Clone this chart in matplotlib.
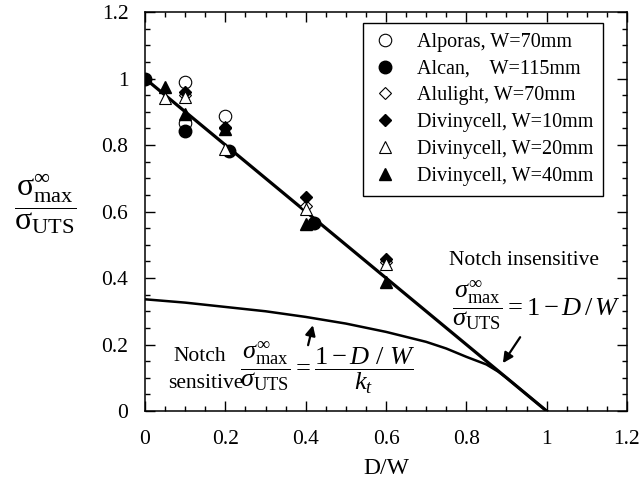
import numpy as np
import matplotlib
matplotlib.use('Agg')
import matplotlib.pyplot as plt
from matplotlib.ticker import MultipleLocator

plt.rcParams['font.family'] = ['Liberation Serif', 'DejaVu Serif']
plt.rcParams['mathtext.fontset'] = 'custom'
plt.rcParams['mathtext.rm'] = 'Liberation Serif'
plt.rcParams['mathtext.it'] = 'Liberation Serif:italic'
plt.rcParams['mathtext.bf'] = 'Liberation Serif:bold'
plt.rcParams['mathtext.fallback'] = 'stix'

# measured points (D/W, normalised strength)
alporas_x = [0.1, 0.1, 0.2]
alporas_y = [0.99, 0.865, 0.888]
alcan_x = [0.0, 0.1, 0.21, 0.42]
alcan_y = [1.0, 0.843, 0.782, 0.564]
alulight_x = [0.1, 0.2, 0.4, 0.6]
alulight_y = [0.95, 0.855, 0.618, 0.448]
div10_x = [0.1, 0.2, 0.4, 0.6]
div10_y = [0.958, 0.85, 0.645, 0.458]
div20_x = [0.05, 0.1, 0.2, 0.4, 0.6]
div20_y = [0.94, 0.945, 0.789, 0.608, 0.442]
div40_x = [0.05, 0.1, 0.2, 0.4, 0.6]
div40_y = [0.975, 0.893, 0.847, 0.563, 0.388]

# notch insensitive line and notch sensitive curve
insens_x = [0.0, 1.0]
insens_y = [1.0, 0.0]
sens_x = [0.0, 0.1, 0.2, 0.3, 0.4, 0.5, 0.6, 0.7, 0.75, 0.8, 0.85, 0.88, 0.9, 0.95, 1.0]
sens_y = [0.336, 0.326, 0.313, 0.300, 0.283, 0.263, 0.238, 0.208, 0.188,
          0.163, 0.14, 0.118, 0.1, 0.05, 0.0]

tick_vals = [0, 0.2, 0.4, 0.6, 0.8, 1.0, 1.2]
tick_labels = ['0', '0.2', '0.4', '0.6', '0.8', '1', '1.2']

fig = plt.figure(figsize=(6.42, 4.92), dpi=100)
ax = fig.add_axes([0.2259, 0.1646, 0.7507, 0.811])

ax.plot(insens_x, insens_y, color='black', lw=2.3, zorder=2)
ax.plot(sens_x, sens_y, color='black', lw=1.8, zorder=2)

ms = 9
ax.plot(alporas_x, alporas_y, 'o', ms=ms, mfc='white', mec='black', mew=0.8,
        label='Alporas, W=70mm', zorder=3)
ax.plot(alcan_x, alcan_y, 'o', ms=ms, mfc='black', mec='black',
        label='Alcan,    W=115mm', zorder=3)
ax.plot(alulight_x, alulight_y, 'D', ms=ms - 2.5, mfc='white', mec='black', mew=0.8,
        label='Alulight, W=70mm', zorder=3)
ax.plot(div10_x, div10_y, 'D', ms=ms - 2.5, mfc='black', mec='black',
        label='Divinycell, W=10mm', zorder=3)
ax.plot(div20_x, div20_y, '^', ms=ms, mfc='white', mec='black', mew=0.8,
        label='Divinycell, W=20mm', zorder=3)
ax.plot(div40_x, div40_y, '^', ms=ms, mfc='black', mec='black',
        label='Divinycell, W=40mm', zorder=3)

ax.set_xlim(0, 1.2)
ax.set_ylim(0, 1.2)
ax.set_xticks(tick_vals)
ax.set_xticklabels(tick_labels)
ax.set_yticks(tick_vals)
ax.set_yticklabels(tick_labels)
ax.xaxis.set_minor_locator(MultipleLocator(0.05))
ax.yaxis.set_minor_locator(MultipleLocator(0.05))
ax.tick_params(which='both', direction='in', top=True, right=True, width=1.0)
ax.tick_params(which='major', length=7)
ax.tick_params(which='minor', length=3.5)
ax.tick_params(axis='x', which='major', labelsize=15.5, pad=14)
ax.tick_params(axis='y', which='major', labelsize=15.5, pad=12)
for s in ax.spines.values():
    s.set_linewidth(1.1)

ax.set_xlabel('D/W', fontsize=17, labelpad=6)
fig.text(0.07, 0.585, r'$\dfrac{\mathrm{\sigma}^{\infty}_{\mathrm{max}}}{\mathrm{\sigma}_{\mathrm{UTS}}}$',
         fontsize=23, ha='center', va='center')

leg = ax.legend(loc='upper right', bbox_to_anchor=(0.951, 0.973), fontsize=14.5,
                frameon=True, fancybox=False, edgecolor='black', framealpha=1,
                labelspacing=0.38, handlelength=1.2, handletextpad=1.0,
                borderpad=0.5, borderaxespad=0)
leg.get_frame().set_linewidth(1.0)

# annotations
arrow_style = dict(arrowstyle='-|>', color='black', lw=1.6, mutation_scale=15,
                   shrinkA=0, shrinkB=0)
ax.text(0.943, 0.453, 'Notch insensitive', fontsize=15.5, ha='center', va='center')
ax.text(0.764, 0.318,
        r'$\dfrac{\sigma^{\infty}_{\mathrm{max}}}{\sigma_{\mathrm{UTS}}} = 1 - D\,/\,W$',
        fontsize=19, ha='left', va='center')
ax.annotate('', xy=(0.891, 0.144), xytext=(0.934, 0.222), arrowprops=arrow_style)

ax.text(0.137, 0.165, 'Notch', fontsize=15.5, ha='center', va='center')
ax.text(0.152, 0.084, 'sensitive', fontsize=15.5, ha='center', va='center')
ax.text(0.236, 0.129,
        r'$\dfrac{\sigma^{\infty}_{\mathrm{max}}}{\sigma_{\mathrm{UTS}}} = \dfrac{1 - D\ /\ W}{k_t}$',
        fontsize=19, ha='left', va='center')
ax.annotate('', xy=(0.418, 0.258), xytext=(0.406, 0.198), arrowprops=arrow_style)

fig.savefig('out.png', dpi=100)
